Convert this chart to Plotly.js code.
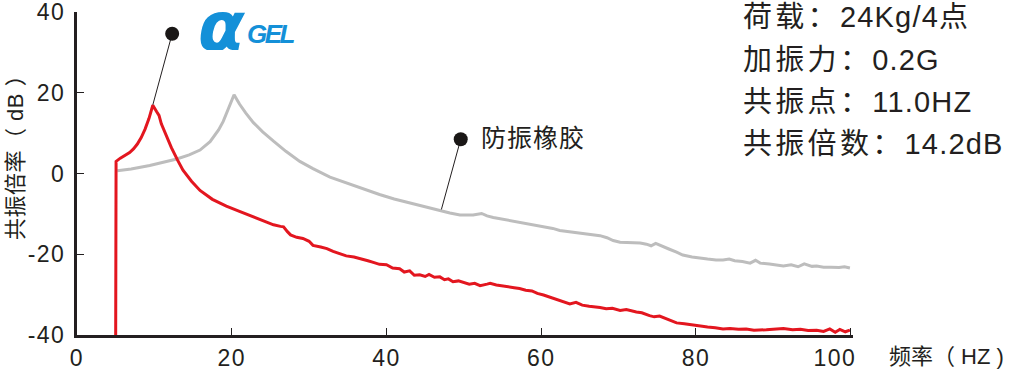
<!DOCTYPE html>
<html>
<head>
<meta charset="utf-8">
<script src="https://cdn.plot.ly/plotly-3.0.1.min.js"></script>
<style>
html,body{margin:0;padding:0;background:#fff;}
#chart{width:1019px;height:371px;}
.xtick text, .ytick text{letter-spacing:1.5px;}
</style>
</head>
<body>
<div id="chart"></div>
<script>
// αGEL (red)
const gelX = [5.0,5.05,5.6,6.2,6.8,7.3,7.8,8.3,8.8,9.3,9.8,10.3,10.6,10.9,11.5,12.2,13.0,13.7,14.8,15.9,17.5,19.3,21.0,22.4,24.0,25.4,26.3,26.7,27.2,27.6,28.4,29.2,30.0,30.5,31.5,32.3,33.1,34.0,34.8,35.8,37.0,37.6,38.3,39.1,40.0,40.8,41.7,42.3,43.0,43.6,44.3,45.0,45.5,46.2,46.9,47.5,48.0,48.6,49.3,50.0,50.7,51.4,52.1,53.0,53.4,54.2,55.0,55.8,56.5,57.2,58.0,58.8,59.5,60.3,61.1,62.0,62.8,63.7,64.5,65.3,66.2,67.0,67.6,68.4,69.2,70.2,71.0,72.3,73.0,74.0,74.6,75.3,76.3,77.5,78.5,79.5,80.5,81.5,82.5,83.5,84.4,85.5,86.5,87.5,89.1,90.2,91.3,92.5,93.5,94.5,95.6,96.5,97.3,98.0,98.6,99.3,99.9];
const gelY = [-40,3.0,3.8,4.4,5.2,6.1,7.3,8.9,11.0,13.6,16.9,15.3,14.4,12.3,9.5,6.4,3.3,0.8,-1.9,-4.2,-6.4,-8.1,-9.4,-10.5,-11.7,-12.7,-13.1,-13.2,-14.4,-15.2,-15.8,-16.1,-16.8,-17.8,-18.2,-18.6,-19.3,-19.8,-20.4,-20.7,-21.2,-21.6,-22.0,-22.5,-22.6,-23.4,-23.6,-24.4,-24.1,-25.2,-25.1,-25.5,-25.0,-25.7,-25.6,-26.3,-26.1,-26.8,-26.6,-27.0,-27.4,-27.2,-27.8,-27.4,-27.2,-27.6,-27.9,-28.1,-28.3,-28.5,-28.9,-29.1,-29.7,-30.1,-30.6,-31.2,-31.6,-32.3,-31.9,-32.6,-32.9,-33.0,-33.2,-33.5,-33.4,-33.9,-33.7,-34.3,-34.5,-35.2,-35.5,-35.3,-36.0,-37.0,-37.2,-37.5,-37.7,-38.0,-38.2,-38.5,-38.4,-38.6,-38.5,-38.8,-38.7,-38.5,-38.4,-38.7,-38.6,-38.9,-38.8,-39.1,-38.5,-39.3,-38.6,-39.2,-38.8];

// 防振橡胶 (gray)
const rubberX = [5.2,7.0,9.4,11.5,12.9,14.5,15.9,17.2,18.3,18.9,19.6,20.3,21.0,21.8,22.8,24.0,25.4,27.0,28.8,30.5,32.7,35.0,37.0,39.1,41.0,43.0,45.0,46.9,48.2,49.5,50.5,51.2,52.3,53.0,53.8,55.0,56.5,58.1,59.5,60.5,61.5,62.4,63.5,64.5,65.5,66.7,67.6,68.5,69.3,70.2,71.5,72.8,73.6,74.2,74.8,75.5,76.5,77.5,78.3,79.5,80.5,81.5,82.6,83.5,84.3,85.0,86.0,87.0,87.7,88.3,89.5,90.5,91.3,92.3,93.2,94.0,95.0,95.6,96.5,97.5,98.5,99.2,99.9];
const rubberY = [0.7,1.1,2.0,2.9,3.6,4.6,5.8,7.9,10.8,12.9,16.0,19.5,17.2,15.0,12.6,10.3,8.0,5.5,3.0,1.2,-0.9,-2.5,-3.8,-5.2,-6.3,-7.3,-8.3,-9.1,-9.8,-10.3,-10.4,-10.3,-9.9,-10.5,-10.9,-11.3,-11.9,-12.5,-12.9,-13.3,-13.6,-14.1,-14.4,-14.6,-14.9,-15.2,-15.4,-15.9,-16.6,-17.0,-17.1,-17.2,-17.5,-17.9,-17.3,-17.8,-18.7,-19.5,-20.2,-20.7,-21.0,-21.2,-21.4,-21.4,-21.2,-21.6,-21.8,-22.2,-21.5,-22.2,-22.4,-22.7,-22.9,-22.6,-23.1,-22.4,-23.0,-22.9,-23.2,-23.2,-23.3,-23.1,-23.4];

const xTicks = [0,20,40,60,80,100];
const xTickText = ['0','20','40','60','80','100\u00A0\u00A0\u00A0\u00A0'];
const yTicks = [-40,-20,0,20,40];
const yTickText = ['-40','-20','0','20','40'];
// info lines: [label, value, suffix]
const infoLines = [['荷载：','24Kg/4','点'],['加振力：','0.2G',''],['共振点：','11.0HZ',''],['共振倍数：','14.2dB','']];

const dark = '#231f20';
const latin = 'Liberation Sans, Arial, sans-serif';
const cjk = 'Liberation Sans, Noto Sans CJK SC, sans-serif';
const sp = (t, s, fs) => '<span style="letter-spacing:' + s + 'px' + (fs ? ';font-size:' + fs + 'px' : '') + '">' + t + '</span>';

const traces = [
  {x: rubberX, y: rubberY, mode:'lines', line:{color:'#bdbdbd', width:3}, hoverinfo:'skip'},
  {x: gelX, y: gelY, mode:'lines', line:{color:'#e3161f', width:3}, hoverinfo:'skip'}
];

const T = 12, B = 335, L = 77, R = 853;
const px = v => (v - L) / (R - L);
const py = v => (B - v) / (B - T);

const annotations = [];
infoLines.forEach((t,i)=>{
  let txt = sp(t[0],3.3,29) + sp(t[1],1.2,29) + (t[2] ? sp(t[2],0,29) : '');
  annotations.push({xref:'paper', yref:'paper', x:px(741), y:py(17.5+i*42.2),
    xanchor:'left', yanchor:'middle', text:txt, showarrow:false,
    font:{family:cjk, size:28, color:dark}});
});
annotations.push({xref:'x', yref:'y', x:51.9, y:8.7, xanchor:'left', yanchor:'middle',
  text:sp('防振橡胶',1), showarrow:false, font:{family:cjk, size:25, color:dark}});
annotations.push({xref:'paper', yref:'paper', x:px(887), y:py(356), xanchor:'left', yanchor:'middle',
  text:'频率（ HZ )', showarrow:false, font:{family:cjk, size:22, color:dark}});
annotations.push({xref:'paper', yref:'paper', x:px(15), y:py(152), xanchor:'center', yanchor:'middle',
  textangle:-90, text:sp('共振倍率（ dB ）',0.5), showarrow:false, font:{family:cjk, size:22, color:dark}});
annotations.push({xref:'paper', yref:'paper', x:px(250), y:py(26), xanchor:'right', yanchor:'middle',
  height:48, width:52, text:'<b><i>α</i></b>', showarrow:false,
  font:{family:'DejaVu Sans, sans-serif', size:68, color:'#1490d8'}});
annotations.push({xref:'paper', yref:'paper', x:px(245), y:py(34), xanchor:'left', yanchor:'middle',
  text:'<b><i>' + sp('GEL',-2.5) + '</i></b>', showarrow:false,
  font:{family:latin, size:26, color:'#1490d8'}});

const shapes = [
  {type:'line', xref:'x', yref:'y', x0:12.3, y0:34.6, x1:9.8, y1:17.0, line:{color:dark, width:1}},
  {type:'line', xref:'x', yref:'y', x0:49.6, y0:8.5, x1:47.1, y1:-8.9, line:{color:dark, width:1}},
  {type:'circle', xref:'x', yref:'y', xsizemode:'pixel', ysizemode:'pixel', xanchor:12.3, yanchor:34.6,
   x0:-7, x1:7, y0:-7, y1:7, fillcolor:'#1a1716', line:{width:0}},
  {type:'circle', xref:'x', yref:'y', xsizemode:'pixel', ysizemode:'pixel', xanchor:49.6, yanchor:8.5,
   x0:-7, x1:7, y0:-7, y1:7, fillcolor:'#1a1716', line:{width:0}}
];

const layout = {
  width:1019, height:371,
  margin:{l:L, r:1019-R, t:T, b:371-B},
  paper_bgcolor:'#fff', plot_bgcolor:'#fff',
  showlegend:false,
  xaxis:{range:[0,100.3], tickvals:xTicks, ticktext:xTickText, showgrid:false, zeroline:false,
    showline:true, linecolor:dark, linewidth:3, ticks:'inside', ticklen:7, tickwidth:1, tickcolor:dark,
    ticklabeloverflow:'allow', tickfont:{family:latin, size:23, color:dark}},
  yaxis:{range:[-40,40], tickvals:yTicks, ticktext:yTickText, showgrid:false, zeroline:false,
    showline:true, linecolor:dark, linewidth:3, ticks:'inside', ticklen:7, tickwidth:1, tickcolor:dark,
    ticklabelstandoff:4, ticklabeloverflow:'allow', tickfont:{family:latin, size:23, color:dark}},
  annotations: annotations,
  shapes: shapes
};

Plotly.newPlot('chart', traces, layout, {staticPlot:true, displayModeBar:false});
</script>
</body>
</html>
